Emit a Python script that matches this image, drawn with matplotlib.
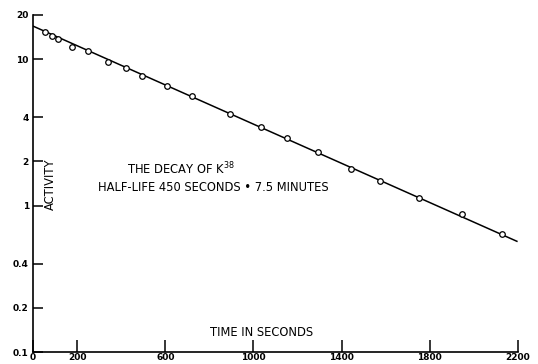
import matplotlib.pyplot as plt

time_s = [54, 86, 113, 176, 249, 341, 422, 496, 606, 720, 893, 1035,
          1151, 1294, 1441, 1574, 1751, 1947, 2128]
activity = [15.3, 14.3, 13.7, 12.0, 11.3, 9.5, 8.7, 7.7, 6.5, 5.6, 4.2, 3.45,
            2.89, 2.32, 1.79, 1.47, 1.12, 0.88, 0.64]

# straight-line fit (ends)
fit_t = [0, 2195]
fit_v = [16.8, 0.57]

xticks = [0, 200, 600, 1000, 1400, 1800, 2200]
yticks = [0.1, 0.2, 0.4, 1, 2, 4, 10, 20]
ytick_labels = ["0.1", "0.2", "0.4", "1", "2", "4", "10", "20"]

plt.rcParams['font.family'] = 'DejaVu Sans'

fig = plt.figure(figsize=(5.38, 3.64), dpi=100)
ax = fig.add_axes([33 / 538, 12 / 364, 485 / 538, 337 / 364])

ax.plot(fit_t, fit_v, color='black', lw=1.1)
ax.plot(time_s, activity, 'o', mfc='white', mec='black', ms=4, mew=0.9)

ax.set_yscale('log')
ax.set_xlim(0, 2200)
ax.set_ylim(0.1, 20)
ax.set_xticks(xticks)
ax.set_xticklabels([str(t) for t in xticks])
ax.set_yticks(yticks)
ax.set_yticklabels(ytick_labels)
ax.minorticks_off()

ax.spines['top'].set_visible(False)
ax.spines['right'].set_visible(False)
for s in ['left', 'bottom']:
    ax.spines[s].set_linewidth(1.2)
ax.tick_params(axis='y', direction='in', length=7, width=1.1, pad=3,
               labelsize=6.5)
ax.tick_params(axis='x', direction='in', length=8.5, width=1.1, pad=1,
               labelsize=6.5)
for lab in ax.get_xticklabels() + ax.get_yticklabels():
    lab.set_fontweight('bold')

ax.text(671, 1.79, "THE DECAY OF K$^{38}$", ha='center', va='center',
        fontsize=8.3)
ax.text(816, 1.33, "HALF-LIFE 450 SECONDS \u2022 7.5 MINUTES", ha='center',
        va='center', fontsize=8.3)
ax.text(77, 1.39, "ACTIVITY", rotation=90, ha='center', va='center',
        fontsize=8.3)
ax.text(1039, 0.135, "TIME IN SECONDS", ha='center', va='center',
        fontsize=8.3)

fig.savefig("out.png", dpi=100)
